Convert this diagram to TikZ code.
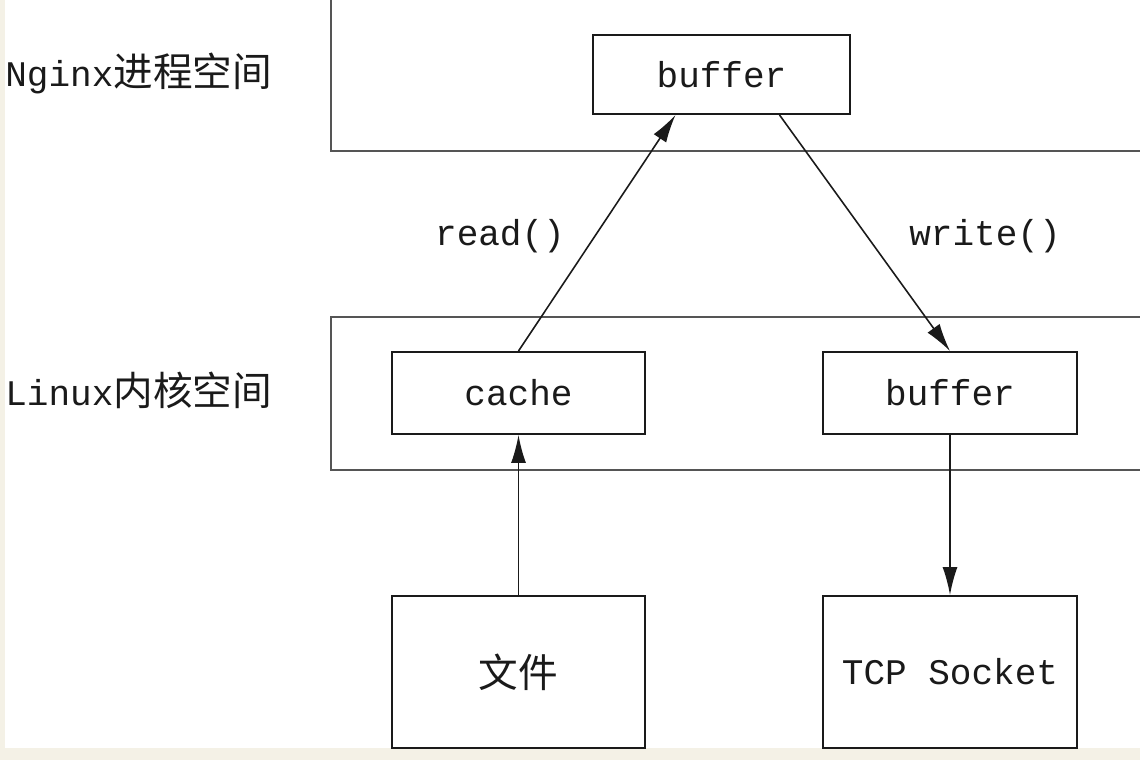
\documentclass[tikz,border=0pt]{standalone}
\usepackage{fontspec}
\setmainfont{Liberation Mono}
\newfontfamily\cjk[Scale=1.1]{Noto Sans CJK SC}
\usetikzlibrary{arrows.meta,calc}
\definecolor{paper}{HTML}{F4F1E6}
\definecolor{rim}{HTML}{555555}
\definecolor{ink}{HTML}{1A1A1A}

\begin{document}
\begin{tikzpicture}[x=0.02cm, y=-0.02cm,
                    space/.style={draw=rim, line width=1.5pt},
                    cell/.style={draw=ink, line width=1.1pt, text=ink, inner sep=0pt,
                                 font=\fontsize{20.5}{24}\selectfont},
                    tag/.style={text=ink, inner sep=0pt, font=\fontsize{20.5}{24}\selectfont},
                    flow/.style={draw=ink, line width=0.9pt,
                                 -{Latex[length=0.56cm, width=0.3cm]}}]
  \useasboundingbox[fill=paper] (0,0) rectangle (1140,760);
  \fill[white] (5,0) rectangle (1140,748);

  \draw[space] (331,-1) rectangle (1150,151);
  \draw[space] (331,317) rectangle (1150,470);

  \node[tag, anchor=west] (nginx) at (5,73) {Nginx{\cjk 进程空间}};
  \node[tag, anchor=west] (linux) at (5,390) {Linux{\cjk 内核空间}};

  \node[cell, minimum width=5.14cm, minimum height=1.58cm] (ubuf) at (721.5,74.5) {buffer};
  \node[cell, minimum width=5.06cm, minimum height=1.64cm] (cache) at (518.5,393) {cache};
  \node[cell, minimum width=5.08cm, minimum height=1.64cm] (kbuf) at (950,393) {buffer};
  \node[cell, minimum width=5.06cm, minimum height=3.04cm] (file) at (518.5,672) {{\cjk 文件}};
  \node[cell, minimum width=5.08cm, minimum height=3.04cm] (tcp) at (950,672) {TCP Socket};

  \draw[flow] (cache.north) -- ($(ubuf.south)+(-46,0)$);
  \draw[flow] ($(ubuf.south)+(58,0)$) -- (kbuf.north);
  \draw[flow] (file.north) -- (cache.south);
  \draw[flow] (kbuf.south) -- (tcp.north);

  \node[tag] (readlbl) at (500,236) {read()};
  \node[tag] (writelbl) at (985,236) {write()};
\end{tikzpicture}
\end{document}
